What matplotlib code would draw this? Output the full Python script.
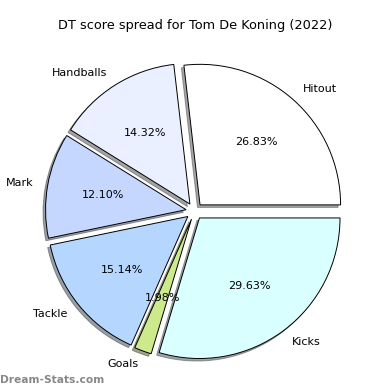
import matplotlib
matplotlib.use("Agg")
import matplotlib.pyplot as plt

# DT score breakdown (percent of total)
labels = ['Hitout', 'Handballs', 'Mark', 'Tackle', 'Goals', 'Kicks']
shares = [26.83, 14.32, 12.10, 15.14, 1.98, 29.63]
colors = ['#ffffff', '#eaf0ff', '#c6d7ff', '#b5d6ff', '#cce98b', '#daffff']

fig = plt.figure(figsize=(3.9, 3.9), dpi=100)
ax = fig.add_axes([0.048, 0.008, 0.901, 0.901])

ax.pie(shares, labels=labels, colors=colors, autopct='%1.2f%%',
       explode=[0.06] * len(shares),
       shadow={'ox': -0.013, 'oy': -0.013},
       wedgeprops={'edgecolor': 'black', 'linewidth': 0.7},
       textprops={'fontsize': 8})

fig.text(0.5, 0.935, 'DT score spread for Tom De Koning (2022)',
         ha='center', va='center', fontsize=9.3)
fig.text(0.0, 0.025, 'Dream-Stats.com', ha='left', va='center',
         fontsize=7.7, color='#888888', fontweight='bold')

fig.savefig('out.png', dpi=100)
